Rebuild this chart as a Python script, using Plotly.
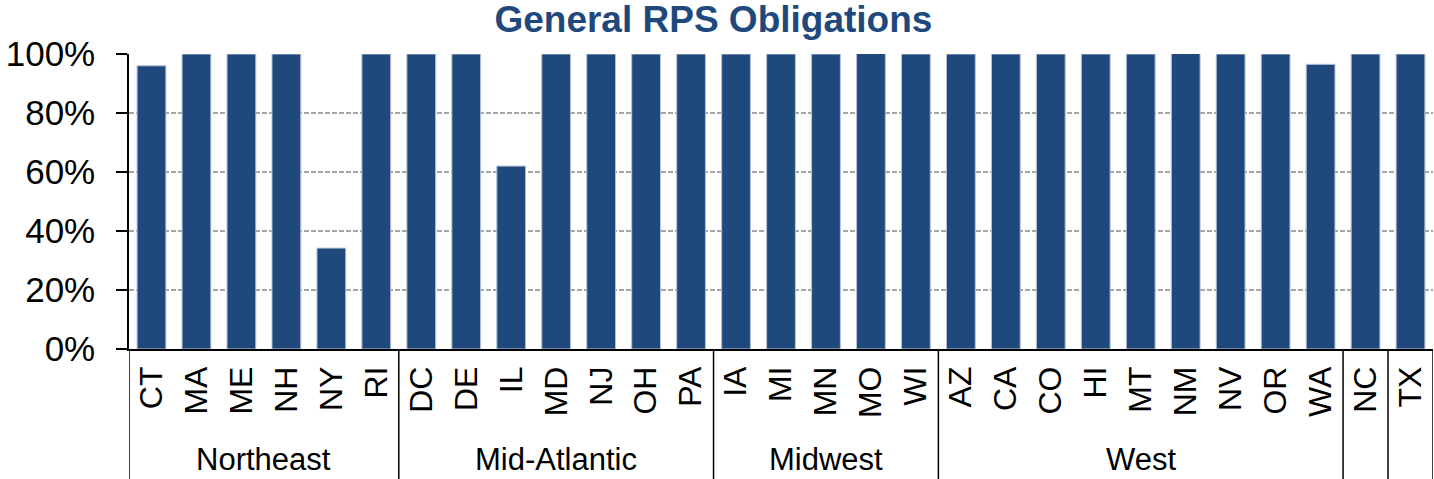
import plotly.graph_objects as go

states = ["CT", "MA", "ME", "NH", "NY", "RI",
          "DC", "DE", "IL", "MD", "NJ", "OH", "PA",
          "IA", "MI", "MN", "MO", "WI",
          "AZ", "CA", "CO", "HI", "MT", "NM", "NV", "OR", "WA",
          "NC", "TX"]
regions = ["Northeast"] * 6 + ["Mid-Atlantic"] * 7 + ["Midwest"] * 5 + ["West"] * 9 + ["NC_grp", "TX_grp"]
values = [0.96, 1.0, 1.0, 1.0, 0.342, 1.0,
          1.0, 1.0, 0.62, 1.0, 1.0, 1.0, 1.0,
          1.0, 1.0, 1.0, 1.004, 1.0,
          1.0, 1.0, 1.0, 1.0, 1.0, 1.004, 1.0, 1.0, 0.965,
          1.0, 1.0]
group_labels = {"Northeast": "Northeast", "Mid-Atlantic": "Mid-Atlantic",
                "Midwest": "Midwest", "West": "West", "NC_grp": "", "TX_grp": ""}
y_ticks = [0, 0.2, 0.4, 0.6, 0.8, 1.0]
y_ticktext = ["0%", "20%", "40%", "60%", "80%", "100%"]

FONT = "Liberation Sans, Arial, sans-serif"
BAR = "#1F497D"

fig = go.Figure()
fig.add_trace(go.Bar(
    x=list(range(len(states))), y=values,
    marker=dict(color=BAR, line=dict(color="#B4C2D6", width=1)),
    width=0.64,
    hoverinfo="x+y",
))

# group boundaries and labels
shapes = []
annotations = []
start = 0
n = len(states)
bounds = [-0.5]
for i in range(1, n + 1):
    if i == n or regions[i] != regions[start]:
        bounds.append(i - 0.5)
        label = group_labels[regions[start]]
        if label:
            annotations.append(dict(
                x=(start + i - 1) / 2, y=-0.373, xref="x", yref="paper",
                text=label, showarrow=False, xanchor="center", yanchor="middle",
                font=dict(family=FONT, size=31, color="black")))
        start = i
for b in bounds:
    shapes.append(dict(type="line", xref="x", yref="paper",
                       x0=b, x1=b, y0=0, y1=-0.45,
                       line=dict(color="black", width=1.5)))

fig.update_layout(
    width=1434, height=479,
    margin=dict(l=129, r=1, t=54, b=130),
    paper_bgcolor="white", plot_bgcolor="white",
    showlegend=False,
    title=dict(text="<b>General RPS Obligations</b>", x=0.4975, xanchor="center",
               y=0.96, yanchor="middle", yref="container",
               font=dict(family=FONT, size=37, color="#1F497D")),
    xaxis=dict(
        type="linear", range=[-0.5, n - 0.5], automargin=False,
        tickmode="array", tickvals=list(range(n)), ticktext=states,
        tickangle=-90, ticks="", showgrid=False, zeroline=False,
        showline=True, linecolor="black", linewidth=1.5,
        tickfont=dict(family=FONT, size=32, color="black"),
        ticklabelstandoff=3,
    ),
    yaxis=dict(
        range=[0, 1.0], automargin=False,
        tickmode="array", tickvals=y_ticks, ticktext=y_ticktext,
        ticks="outside", ticklen=11, tickcolor="black", tickwidth=1.5,
        showline=True, linecolor="black", linewidth=1.5,
        showgrid=True, gridcolor="#A6A6A6", gridwidth=1.5, griddash="5px,2px",
        zeroline=False,
        tickfont=dict(family=FONT, size=35, color="black"),
        ticklabelstandoff=14,
    ),
    shapes=shapes,
    annotations=annotations,
    bargap=0.36,
)

# remove the browser's default page margin so the figure fills the window exactly
fig.write_html("out.html",
               config={"displayModeBar": False},
               post_script="document.body.style.margin='0';document.body.style.overflow='hidden';")
